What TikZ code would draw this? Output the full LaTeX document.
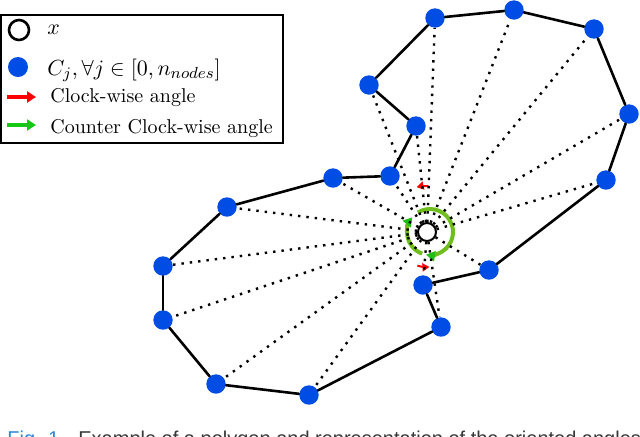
\documentclass[tikz,border=0pt]{standalone}
\usepackage{fontspec}
\newfontfamily\capfont{Liberation Sans}
\usepackage{tikz}
\usetikzlibrary{arrows.meta}
\definecolor{nodeblue}{RGB}{0,77,230}
\definecolor{ringgreen}{RGB}{112,190,30}
\definecolor{tipgreen}{RGB}{30,190,20}
\definecolor{leggreen}{RGB}{20,200,20}
\definecolor{capblue}{RGB}{40,135,220}
\definecolor{capgray}{RGB}{55,55,55}
\tikzstyle{cnode} = [circle, fill=nodeblue, inner sep=0pt, minimum size=9.7pt]
\tikzstyle{xnode} = [circle, draw=black, fill=white, line width=1pt,
inner sep=0pt, minimum size=9pt]
\tikzstyle{edge} = [line width=1.3pt, line cap=round]
\tikzstyle{spoke} = [line width=1.2pt, dash pattern=on 1.2pt off 3pt]
\tikzstyle{cwarc} = [red, line width=1pt, -{Triangle[length=3.5pt, width=4pt]}]
\tikzstyle{ccwarc} = [ringgreen, line width=2pt,
-{Triangle[length=4.5pt, width=5pt, color=tipgreen]}]
\tikzstyle{legarrow} = [line width=1.6pt, -{Triangle[length=4.5pt, width=5.5pt]}]
\tikzstyle{legtext} = [anchor=base west, inner sep=0pt]
\tikzstyle{captext} = [anchor=north west, inner sep=0pt,
font=\capfont\fontsize{10}{12}\selectfont]

\begin{document}
\begin{tikzpicture}[x=0.5pt, y=0.5pt]
    \clip (0,0) rectangle (640,436);

    % polygon corners
    \node (c1)  [cnode] at (435,418) {};
    \node (c2)  [cnode] at (514,426) {};
    \node (c3)  [cnode] at (594,407) {};
    \node (c4)  [cnode] at (629,322) {};
    \node (c5)  [cnode] at (606,256) {};
    \node (c6)  [cnode] at (489,166) {};
    \node (c7)  [cnode] at (423,151) {};
    \node (c8)  [cnode] at (441,109) {};
    \node (c9)  [cnode] at (309,41)  {};
    \node (c10) [cnode] at (216,52)  {};
    \node (c11) [cnode] at (163,116) {};
    \node (c12) [cnode] at (163,170) {};
    \node (c13) [cnode] at (227,229) {};
    \node (c14) [cnode] at (333,258) {};
    \node (c15) [cnode] at (390,260) {};
    \node (c16) [cnode] at (416,310) {};
    \node (c17) [cnode] at (369,351) {};

    % the point x
    \node (x) [xnode] at (427,204) {};
    \coordinate (ringc) at (430,204);

    % oriented angles
    \draw[ccwarc] ([shift={(122:23)}]ringc) arc[start angle=122, end angle=-100, radius=23];
    \draw[ccwarc] ([shift={(-110:23)}]ringc) arc[start angle=-110, end angle=-220, radius=23];
    \draw[cwarc] ([shift={(88:46)}]x.center) arc[start angle=88, end angle=103, radius=46];
    \draw[cwarc] ([shift={(-106:35)}]x.center) arc[start angle=-106, end angle=-86, radius=35];

    % spokes
    \draw[spoke] (x) -- (c1);
    \draw[spoke] (x) -- (c2);
    \draw[spoke] (x) -- (c3);
    \draw[spoke] (x) -- (c4);
    \draw[spoke] (x) -- (c5);
    \draw[spoke] (x) -- (c6);
    \draw[spoke] (x) -- (c7);
    \draw[spoke] (x) -- (c8);
    \draw[spoke] (x) -- (c9);
    \draw[spoke] (x) -- (c10);
    \draw[spoke] (x) -- (c11);
    \draw[spoke] (x) -- (c12);
    \draw[spoke] (x) -- (c13);
    \draw[spoke] (x) -- (c14);
    \draw[spoke] (x) -- (c15);
    \draw[spoke] (x) -- (c16);
    \draw[spoke] (x) -- (c17);

    % polygon
    \draw[edge] (c1) -- (c2);
    \draw[edge] (c2) -- (c3);
    \draw[edge] (c3) -- (c4);
    \draw[edge] (c4) -- (c5);
    \draw[edge] (c5) -- (c6);
    \draw[edge] (c6) -- (c7);
    \draw[edge] (c7) -- (c8);
    \draw[edge] (c8) -- (c9);
    \draw[edge] (c9) -- (c10);
    \draw[edge] (c10) -- (c11);
    \draw[edge] (c11) -- (c12);
    \draw[edge] (c12) -- (c13);
    \draw[edge] (c13) -- (c14);
    \draw[edge] (c14) -- (c15);
    \draw[edge] (c15) -- (c16);
    \draw[edge] (c16) -- (c17);
    \draw[edge] (c17) -- (c1);

    % legend
    \node (legend) [draw, line width=0.6pt, inner sep=0pt,
    minimum width=141pt, minimum height=64pt] at (142,357) {};
    \node (legx) [xnode, line width=1.3pt, minimum size=10pt] at (19,406) {};
    \node (legc) [cnode, minimum size=10pt] at (18,369) {};
    \coordinate (redA) at (7,339);
    \coordinate (redB) at (36,339);
    \coordinate (greenA) at (7,311);
    \coordinate (greenB) at (36,311);
    \draw[legarrow, red] (redA) -- (redB);
    \draw[legarrow, leggreen] (greenA) -- (greenB);
    \node (txtx) [legtext, font=\fontsize{11.2}{13}\selectfont] at (47,402) {$x$};
    \node (txtc) [legtext, font=\fontsize{11.2}{13}\selectfont] at (47,361)
    {$C_j, \forall j \in [0, n_{nodes}]$};
    \node (txtcw)  [legtext] at (50,334) {Clock-wise angle};
    \node (txtccw) [legtext] at (50,303) {Counter Clock-wise angle};

    % caption
    \node (figno) [captext, text=capblue] at (7,5) {Fig. 1.};
    \node (caption) [captext, text=capgray] at (78,5)
    {Example of a polygon and representation of the oriented angles};
\end{tikzpicture}
\end{document}
